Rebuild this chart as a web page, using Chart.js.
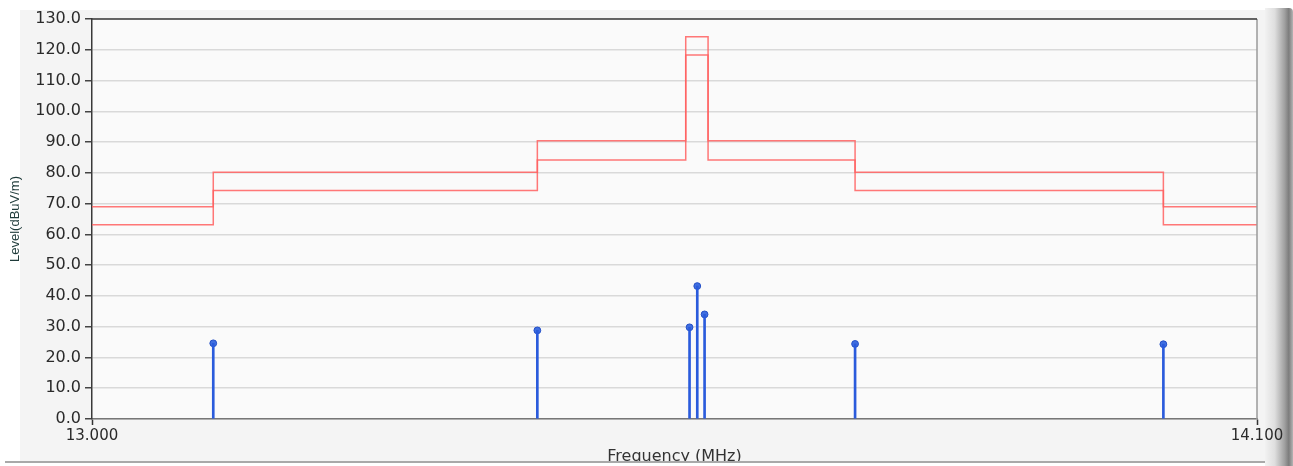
<!DOCTYPE html>
<html>
<head>
<meta charset="utf-8">
<script src="https://cdn.jsdelivr.net/npm/chart.js@4/dist/chart.umd.min.js"></script>
<style>
    body { margin: 0; background: #ffffff; width: 1293px; height: 466px; overflow: hidden; position: relative; }
    #panel { position: absolute; left: 20px; top: 10px; width: 1245px; height: 451px; background: #f4f4f4; }
    #rightBar { position: absolute; left: 1265px; top: 8px; width: 28px; height: 458px;
        background: linear-gradient(to right, #f2f2f2 0%, #dedede 35%, #a0a0a0 70%, #7c7c7c 85%, #b4b4b4 100%);
        border-top-right-radius: 4px; }
    #bottomLine { position: absolute; left: 5px; top: 461px; width: 1260px; height: 2px; background: #a9a9a9; z-index: 3; }
    #bottomCut { position: absolute; left: 0; top: 463px; width: 1265px; height: 3px; background: #ffffff; z-index: 3; }
    #wrap { position: absolute; left: 0; top: 0; width: 1293px; height: 466px; z-index: 2; }
</style>
</head>
<body>
<div id="panel"></div>
<div id="rightBar"></div>
<div id="wrap"><canvas id="emiChart" width="1293" height="466"></canvas></div>
<div id="bottomLine"></div>
<div id="bottomCut"></div>
<script>
// Límites (escalones) en MHz y dBuV/m
const limitEdges = [13.000, 13.1145, 13.4205, 13.5606, 13.5817, 13.7205, 14.0116, 14.100];
const upperLimit = [69.0, 80.2, 90.4, 124.2, 90.4, 80.2, 69.0, 69.0];
const lowerLimit = [63.1, 74.3, 84.2, 118.3, 84.2, 74.3, 63.1, 63.1];

// Picos medidos
const peakFreqs = [13.1145, 13.4205, 13.5642, 13.5715, 13.5784, 13.7205, 14.0116];
const peakLevels = [24.6, 28.8, 29.8, 43.2, 34.0, 24.4, 24.3];

// Ejes
const xTicks = [13.000, 14.100];
const yMin = 0, yMax = 130, yStep = 10;

const toPoints = (xs, ys) => xs.map((x, i) => ({ x: x, y: ys[i] }));

// Fondo y marco del área de trazado
const framePlugin = {
    id: 'frame',
    beforeDraw(chart) {
        const { ctx, chartArea: a } = chart;
        ctx.save();
        ctx.fillStyle = '#fafafa';
        ctx.fillRect(a.left, a.top, a.right - a.left, a.bottom - a.top);
        ctx.restore();
    },
    afterDraw(chart) {
        const { ctx, chartArea: a } = chart;
        ctx.save();
        ctx.lineWidth = 1.5;
        ctx.strokeStyle = '#9a9a9a';
        ctx.beginPath();
        ctx.moveTo(a.right, a.top);
        ctx.lineTo(a.right, a.bottom);
        ctx.stroke();
        ctx.strokeStyle = '#3a3a3a';
        ctx.beginPath();
        ctx.moveTo(a.left, a.top);
        ctx.lineTo(a.right, a.top);
        ctx.stroke();
        ctx.restore();
    }
};

const ctx = document.querySelector('#emiChart').getContext('2d');
new Chart(ctx, {
    data: {
        datasets: [
            {
                type: 'line',
                data: toPoints(limitEdges, upperLimit),
                stepped: 'before',
                borderColor: 'rgba(255, 95, 95, 0.85)',
                borderWidth: 1.5,
                pointRadius: 0,
                fill: false
            },
            {
                type: 'line',
                data: toPoints(limitEdges, lowerLimit),
                stepped: 'before',
                borderColor: 'rgba(255, 95, 95, 0.85)',
                borderWidth: 1.5,
                pointRadius: 0,
                fill: false
            },
            {
                type: 'bar',
                data: toPoints(peakFreqs, peakLevels),
                backgroundColor: '#2a5bdc',
                barThickness: 2,
                borderWidth: 0
            },
            {
                type: 'scatter',
                data: toPoints(peakFreqs, peakLevels),
                pointStyle: 'circle',
                pointRadius: 3.4,
                backgroundColor: '#3f6ee0',
                borderColor: '#2450c8',
                borderWidth: 1
            },
            {
                type: 'scatter',
                data: toPoints(peakFreqs, peakLevels),
                pointStyle: 'cross',
                pointRadius: 2.4,
                borderColor: 'rgba(255,255,255,0.75)',
                borderWidth: 1
            }
        ]
    },
    options: {
        responsive: false,
        animation: false,
        devicePixelRatio: 1,
        layout: { padding: { left: 0, top: 19, right: 36, bottom: 0 } },
        plugins: {
            legend: { display: false },
            tooltip: { enabled: false }
        },
        scales: {
            x: {
                type: 'linear',
                min: 13.0,
                max: 14.1,
                offset: false,
                afterFit: s => { s.height = 47; },
                afterBuildTicks: s => { s.ticks = xTicks.map(v => ({ value: v })); },
                border: { display: true, color: '#777777', width: 1.5 },
                grid: { offset: false, drawOnChartArea: false, drawTicks: true, tickLength: 6, tickColor: '#333333', tickWidth: 1.5 },
                ticks: {
                    autoSkip: false,
                    maxRotation: 0,
                    padding: 2,
                    color: '#2a2a2a',
                    font: { family: 'DejaVu Sans', size: 15 },
                    callback: v => Number(v).toFixed(3)
                },
                title: {
                    display: true,
                    text: 'Frequency (MHz)',
                    color: '#333333',
                    font: { family: 'DejaVu Sans', size: 16 },
                    padding: { top: 0, bottom: 0 }
                }
            },
            y: {
                min: yMin,
                max: yMax,
                afterFit: s => { s.width = 92; },
                border: { display: true, color: '#3a3a3a', width: 1.5 },
                grid: { color: '#d9d9d9', lineWidth: 1.5, tickLength: 7, tickColor: '#444444', tickWidth: 1.5 },
                ticks: {
                    stepSize: yStep,
                    padding: 4,
                    color: '#2a2a2a',
                    font: { family: 'DejaVu Sans', size: 16 },
                    callback: v => Number(v).toFixed(1)
                },
                title: {
                    display: true,
                    text: 'Level(dBuV/m)',
                    color: '#1f3b3a',
                    font: { family: "'Liberation Sans Narrow', 'Liberation Sans'", size: 13 },
                    padding: { top: 8, bottom: 0 }
                }
            }
        }
    },
    plugins: [framePlugin]
});
</script>
</body>
</html>
